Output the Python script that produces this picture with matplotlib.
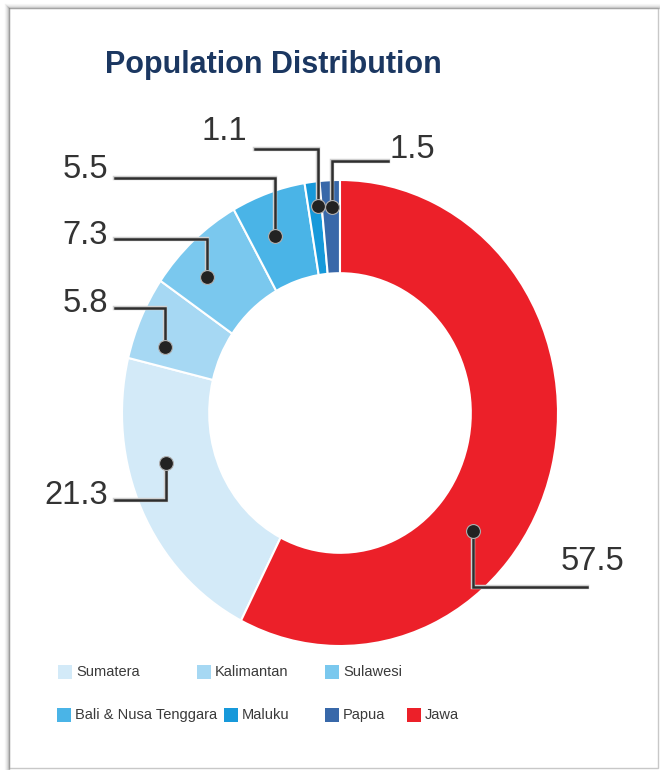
"""
Population distribution donut
"""

import numpy as np
import matplotlib.pyplot as plt
from matplotlib.patches import Rectangle
from matplotlib.lines import Line2D
import matplotlib.patheffects as pe

plt.close("all")

"""
Data:
"""
regions = ['Sumatera', 'Kalimantan', 'Sulawesi', 'Bali & Nusa Tenggara', 'Maluku', 'Papua', 'Jawa']
share = [21.3, 5.8, 7.3, 5.5, 1.1, 1.5, 57.5]
labels = ['21.3', '5.8', '7.3', '5.5', '1.1', '1.5', '57.5']
colors = ['#d3eaf8', '#a6d8f3', '#7ac8ee', '#4ab4e7', '#1799da', '#3868a9', '#ec2029']

"""
Layout (pixels of the 660x770 picture):
"""
W, H = 660, 770
cx, cy, rx, ry = 340, 413, 218, 233

# where the dot sits inside each wedge (fraction along wedge, radius)
dot_frac = [0.625, 0.27, 0.35, 0.39, 0.72, 0.55, 0.627]
dot_r = [0.826, 0.851, 0.845, 0.816, 0.894, 0.885, 0.793]
# leader line: horizontal level and end
line_y = [500, 308, 239, 178, 149, 161, 587]
line_x = [115, 115, 115, 115, 255, 388, 587]
# label text anchor
txt_x = [108, 108, 108, 108, 247, 390, 624]
txt_y = [496, 304, 235, 170, 131, 149, 561]
txt_ha = ['right', 'right', 'right', 'right', 'right', 'left', 'right']

# legend boxes
leg_x = [58, 197, 325, 57, 224, 325, 407]
leg_y = [672, 672, 672, 715, 715, 715, 715]

font = ['Liberation Sans Narrow', 'Liberation Sans', 'DejaVu Sans']


def px(p):
    return (p - cx) / rx


def py(p):
    return (cy - p) / ry


fig = plt.figure(figsize=(W / 100, H / 100), dpi=100)
fig.patch.set_facecolor('white')

# frame with a soft shadow on the left/top
for i, a in enumerate([0.55, 0.35, 0.22, 0.12, 0.06]):
    fig.add_artist(Line2D([(9 - i) / W] * 2, [0, 1 - (8 - i) / H],
                          transform=fig.transFigure, color='#808080', alpha=a, lw=1))
    fig.add_artist(Line2D([(9 - i) / W, 1], [1 - (8 - i) / H] * 2,
                          transform=fig.transFigure, color='#808080', alpha=a * 0.8, lw=1))
fig.add_artist(Rectangle((9 / W, 2 / H), (658 - 9) / W, (768 - 8) / H,
                         transform=fig.transFigure, fill=False, ec='#c8c8c8', lw=1))

ax = fig.add_axes([0, 0, 1, 1])
ax.patch.set_alpha(0)

start = 90 - 3.6 * share[-1]
ax.pie(share, colors=colors, startangle=start, counterclock=False, radius=1,
       wedgeprops=dict(width=0.4, edgecolor='white', linewidth=1.5))
ax.set_aspect('auto')
ax.set_xlim(px(0), px(W))
ax.set_ylim(py(H), py(0))
ax.axis('off')

"""
Leader lines, dots and values
"""
cum = np.concatenate(([0], np.cumsum(share)[:-1]))
halo = [pe.withStroke(linewidth=3.2, foreground='#d0d0d0')]
for i in range(len(share)):
    ang = np.deg2rad(start - 3.6 * (cum[i] + dot_frac[i] * share[i]))
    dx = dot_r[i] * np.cos(ang)
    dy = dot_r[i] * np.sin(ang)
    ax.plot([dx, dx, px(line_x[i])], [dy, py(line_y[i]), py(line_y[i])],
            color='#2e2e2e', lw=1.8, solid_joinstyle='miter', path_effects=halo, zorder=5)
    ax.plot(dx, dy, 'o', ms=10, mfc='#222222', mec='#b0b0b0', mew=0.8, zorder=6)
    ax.text(px(txt_x[i]), py(txt_y[i]), labels[i], ha=txt_ha[i], va='center',
            fontsize=23.5, color='#333333', family=font)

"""
Title and legend
"""
fig.text(273 / W, 1 - 65 / H, 'Population Distribution', ha='center', va='center',
         fontsize=22, fontweight='bold', color='#1b3761', family=font)

for i in range(len(regions)):
    fig.add_artist(Rectangle((leg_x[i] / W, 1 - (leg_y[i] + 7) / H), 14 / W, 14 / H,
                             transform=fig.transFigure, fc=colors[i], ec='none'))
    fig.text((leg_x[i] + 18) / W, 1 - leg_y[i] / H, regions[i], ha='left', va='center',
             fontsize=10.5, color='#3a3a3a', family=font)

plt.savefig("out.png", dpi=100)
